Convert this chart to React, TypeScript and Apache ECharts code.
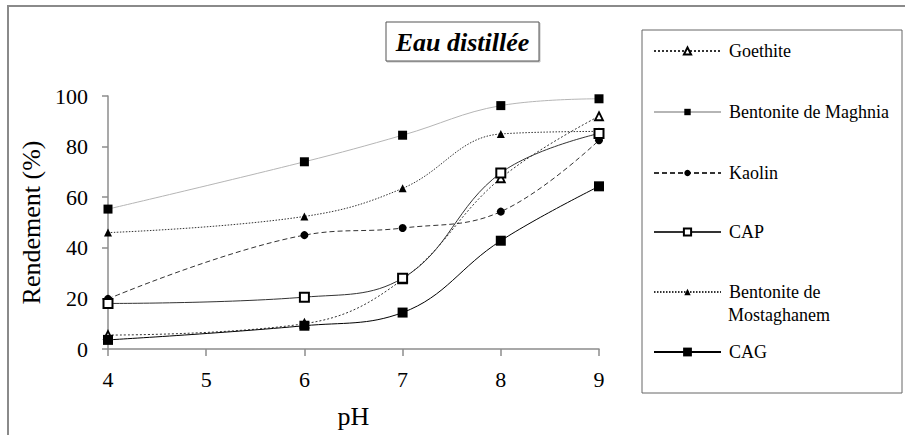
import React, { useEffect, useRef } from "react";
import * as echarts from "echarts";

const pH = [4, 6, 7, 8, 9];
const goethite = [5.5, 10, 27.5, 67.5, 92];
const maghnia = [55.3, 74, 84.5, 96.2, 98.9];
const kaolin = [19.8, 45, 47.8, 54.3, 82.5];
const cap = [18, 20.5, 28, 69.6, 85.2];
const mostaghanem = [46, 52.4, 63.5, 85, 86];
const cag = [3.6, 9.2, 14.4, 42.8, 64.3];
const seriesNames = [
  "Goethite",
  "Bentonite de Maghnia",
  "Kaolin",
  "CAP",
  "Bentonite de Mostaghanem",
  "CAG",
];
const legendCenters = [51, 112, 173, 232, 292, 352];
const legendIconHeights = [9, 8, 8, 9, 8, 11];

const FONT = "Liberation Serif";

const pair = (ys: number[]) => pH.map((x, i) => [x, ys[i]]);

export default function App() {
  const ref = useRef<HTMLDivElement>(null);
  useEffect(() => {
    if (!ref.current) return;
    const chart = echarts.init(ref.current, null, { renderer: "svg" });
    const smooth = 0.4;
    const series: any[] = [
      {
        name: seriesNames[0],
        type: "line",
        data: pair(goethite),
        smooth,
        symbol: "triangle",
        symbolSize: 8,
        lineStyle: { color: "#333", width: 1, type: [2, 2] },
        itemStyle: { color: "#fff", borderColor: "#000", borderWidth: 1.8 },
        z: 3,
      },
      {
        name: seriesNames[1],
        type: "line",
        data: pair(maghnia),
        smooth,
        symbol: "rect",
        symbolSize: 9,
        lineStyle: { color: "#b5b5b5", width: 1 },
        itemStyle: { color: "#000" },
        z: 2,
      },
      {
        name: seriesNames[2],
        type: "line",
        data: pair(kaolin),
        smooth,
        symbol: "circle",
        symbolSize: 8,
        lineStyle: { color: "#333", width: 1, type: [5, 3] },
        itemStyle: { color: "#000" },
        z: 2,
      },
      {
        name: seriesNames[3],
        type: "line",
        data: pair(cap),
        smooth,
        symbol: "rect",
        symbolSize: 9,
        lineStyle: { color: "#333", width: 1 },
        itemStyle: { color: "#fff", borderColor: "#000", borderWidth: 2 },
        z: 4,
      },
      {
        name: seriesNames[4],
        type: "line",
        data: pair(mostaghanem),
        smooth,
        symbol: "triangle",
        symbolSize: 8,
        lineStyle: { color: "#333", width: 1, type: [1.5, 1.5] },
        itemStyle: { color: "#000" },
        z: 2,
      },
      {
        name: seriesNames[5],
        type: "line",
        data: pair(cag),
        smooth,
        symbol: "rect",
        symbolSize: 10,
        lineStyle: { color: "#000", width: 1 },
        itemStyle: { color: "#000" },
        z: 3,
      },
    ];

    const legends = seriesNames.map((name, i) => ({
      data: [name],
      orient: "vertical",
      left: 653,
      top: legendCenters[i] - 10,
      padding: 0,
      itemWidth: 67,
      itemHeight: legendIconHeights[i],
      selectedMode: false,
      formatter: (n: string) => (n === "Bentonite de Mostaghanem" ? "Bentonite de" : n),
      textStyle: {
        fontFamily: FONT,
        fontSize: 18,
        lineHeight: 20,
        color: "#000",
        padding: [0, 0, 0, 3],
      },
    }));

    chart.setOption({
      animation: false,
      backgroundColor: "#fff",
      textStyle: { fontFamily: FONT },
      grid: { left: 108, right: 306, top: 96, bottom: 86 },
      xAxis: {
        type: "value",
        min: 4,
        max: 9,
        interval: 1,
        name: "pH",
        nameLocation: "middle",
        nameGap: 54,
        nameTextStyle: { fontFamily: FONT, fontSize: 26, color: "#000" },
        axisLine: { lineStyle: { color: "#8c8c8c", width: 1.5 } },
        axisTick: { show: true, inside: false, length: 7, lineStyle: { color: "#8c8c8c", width: 1.5 } },
        axisLabel: { fontFamily: FONT, fontSize: 22, color: "#000", margin: 19 },
        splitLine: { show: false },
      },
      yAxis: {
        type: "value",
        min: 0,
        max: 100,
        interval: 20,
        name: "Rendement (%)",
        nameLocation: "middle",
        nameGap: 62,
        nameTextStyle: { fontFamily: FONT, fontSize: 26, color: "#000" },
        axisLine: { show: true, lineStyle: { color: "#8c8c8c", width: 1.5 } },
        axisTick: { show: true, inside: false, length: 6, lineStyle: { color: "#8c8c8c", width: 1.5 } },
        axisLabel: { fontFamily: FONT, fontSize: 22, color: "#000", margin: 20 },
        splitLine: { show: false },
      },
      legend: legends,
      graphic: [
        {
          type: "rect",
          shape: { x: 8, y: 6, width: 1000, height: 1000 },
          style: { fill: "none", stroke: "#8a8a8a", lineWidth: 2 },
          silent: true,
          z: -10,
        },
        {
          type: "rect",
          shape: { x: 642, y: 30, width: 260, height: 363 },
          style: { fill: "none", stroke: "#666", lineWidth: 1 },
          silent: true,
        },
        {
          type: "rect",
          shape: { x: 386, y: 22, width: 153, height: 39 },
          style: { fill: "#fff", stroke: "#555", lineWidth: 1, shadowColor: "rgba(0,0,0,0.25)", shadowOffsetX: 1, shadowOffsetY: 1, shadowBlur: 1 },
          silent: true,
        },
        {
          type: "text",
          x: 462.5,
          y: 42,
          style: {
            text: "Eau distillée",
            fontFamily: FONT,
            fontSize: 26,
            fontWeight: "bold",
            fontStyle: "italic",
            fill: "#000",
            align: "center",
            verticalAlign: "middle",
          },
          silent: true,
        },
        {
          type: "text",
          x: 728,
          y: 315,
          style: {
            text: "Mostaghanem",
            fontFamily: FONT,
            fontSize: 18,
            fill: "#000",
            align: "left",
            verticalAlign: "middle",
          },
          silent: true,
        },
      ],
      series,
    });
    return () => chart.dispose();
  }, []);
  return (
    <div
      ref={ref}
      style={{ position: "absolute", left: 0, top: 0, width: 905, height: 435 }}
    />
  );
}
